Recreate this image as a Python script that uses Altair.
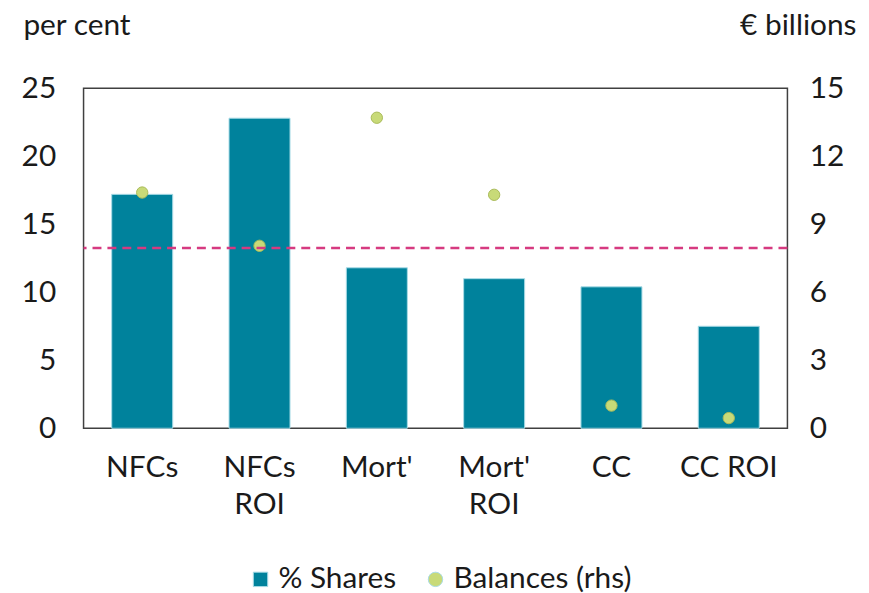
import altair as alt
import pandas as pd

categories = ["NFCs", "NFCs ROI", "Mort'", "Mort' ROI", "CC", "CC ROI"]
shares = [17.2, 22.8, 11.8, 11.0, 10.4, 7.5]
balances = [10.4, 8.05, 13.7, 10.3, 1.0, 0.45]
threshold = [13.25]
series = ["% Shares", "Balances (rhs)"]
left_ticks = [0, 5, 10, 15, 20, 25]
right_ticks = [0, 3, 6, 9, 12, 15]

df = pd.DataFrame({
    "cat": categories,
    "share": shares,
    "bal": balances,
    "sb": [series[0]] * len(categories),
    "sp": [series[1]] * len(categories),
})
df_rule = pd.DataFrame({"v": threshold})

teal = "#00829C"
green = "#C8DA78"
pink = "#D63A80"
txt = "#1a1a1a"
fs = 30

color_scale = alt.Scale(domain=series, range=[teal, green])
shape_scale = alt.Scale(domain=series, range=["square", "circle"])

x = alt.X(
    "cat:N",
    sort=categories,
    scale=alt.Scale(paddingInner=0.48, paddingOuter=0.24),
    axis=alt.Axis(
        title=None, labelAngle=0, ticks=False, domain=False,
        labelFontSize=fs, labelPadding=25, labelLineHeight=37,
        labelExpr="indexof(datum.label, ' ROI') > 0 && datum.label != 'CC ROI' ? split(datum.label, ' ') : datum.label",
    ),
)

legend = alt.Legend(
    title=None, orient="none", direction="horizontal", legendX=163, legendY=479,
)

bars = alt.Chart(df).mark_bar(stroke="#a8dbe6", strokeWidth=1).encode(
    x=x,
    y=alt.Y(
        "share:Q",
        scale=alt.Scale(domain=[0, 25], nice=False),
        axis=alt.Axis(
            values=left_ticks, title="per cent", titleAngle=0, titleAlign="left",
            titleBaseline="alphabetic", titleX=-61, titleY=-54, titleFontSize=fs,
            titleFontWeight="normal", titleColor=txt, ticks=False, domain=False,
            grid=False, labelPadding=28, labelFontSize=fs,
        ),
    ),
    color=alt.Color("sb:N", scale=color_scale, legend=legend),
)

points = alt.Chart(df).mark_point(
    filled=True, size=130, stroke="#a9ba5a", strokeWidth=1, opacity=1
).encode(
    x=x,
    y=alt.Y(
        "bal:Q",
        scale=alt.Scale(domain=[0, 15], nice=False),
        axis=alt.Axis(
            orient="right", values=right_ticks, title="€ billions", titleAngle=0,
            titleAlign="right", titleBaseline="alphabetic", titleX=69, titleY=-54,
            titleFontSize=fs, titleFontWeight="normal", titleColor=txt,
            ticks=False, domain=False, grid=False, labelPadding=22, labelFontSize=fs,
        ),
    ),
    color=alt.Color("sp:N", scale=color_scale, legend=legend),
    shape=alt.Shape("sp:N", scale=shape_scale, legend=legend),
)

rule = alt.Chart(df_rule).mark_rule(color=pink, strokeDash=[9, 6], strokeWidth=2.5).encode(
    y=alt.Y("v:Q", scale=alt.Scale(domain=[0, 25], nice=False), axis=None)
)

chart = (
    alt.layer(bars, points, rule)
    .resolve_scale(y="independent")
    .properties(
        width=708, height=342,
        padding={"left": 13, "top": 1, "right": 5, "bottom": 5},
    )
    .configure(font="Lato")
    .configure_view(stroke="#404040", strokeWidth=1.5)
    .configure_axis(labelColor=txt, labelFont="Lato", titleFont="Lato")
    .configure_legend(
        labelFont="Lato", labelFontSize=fs, labelColor=txt, labelLimit=400,
        symbolSize=210, columnPadding=24, labelOffset=3, symbolStrokeWidth=1,
    )
)

chart.save("out.html", embed_options={"renderer": "svg", "actions": False})
